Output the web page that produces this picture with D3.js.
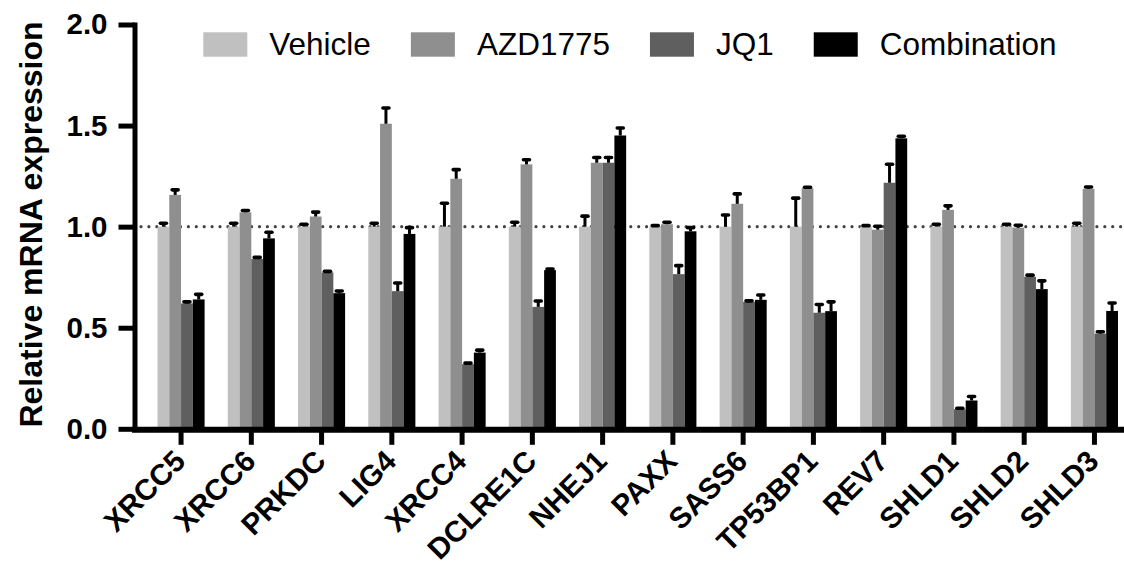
<!DOCTYPE html>
<html>
<head>
<meta charset="utf-8">
<script src="https://cdn.jsdelivr.net/npm/d3@7"></script>
<style>
  html, body { margin: 0; padding: 0; background: #fff; }
  svg { display: block; }
  text { font-family: "Liberation Sans", Arial, Helvetica, sans-serif; }
</style>
</head>
<body>
<svg id="chart" width="1124" height="566"></svg>
<script>
const genes = ["XRCC5","XRCC6","PRKDC","LIG4","XRCC4","DCLRE1C","NHEJ1","PAXX","SASS6","TP53BP1","REV7","SHLD1","SHLD2","SHLD3"];
const seriesNames = ["Vehicle","AZD1775","JQ1","Combination"];
const seriesColors = ["#c0c0c0","#8f8f8f","#5f5f5f","#000000"];
const yTicks = [0, 0.5, 1.0, 1.5, 2.0];

const vehicle     = [1.00, 1.00, 1.00, 1.00, 1.00, 1.00, 1.00, 1.00, 1.00, 1.00, 1.00, 1.00, 1.00, 1.00];
const azd1775     = [1.157, 1.071, 1.05, 1.509, 1.237, 1.308, 1.316, 1.012, 1.113, 1.19, 0.985, 1.083, 0.995, 1.187];
const jq1         = [0.62, 0.84, 0.774, 0.681, 0.32, 0.603, 1.316, 0.765, 0.628, 0.574, 1.217, 0.097, 0.752, 0.471];
const combination = [0.64, 0.942, 0.671, 0.964, 0.377, 0.785, 1.451, 0.977, 0.638, 0.582, 1.437, 0.14, 0.691, 0.583];

const vehicleSem     = [0.017, 0.017, 0.012, 0.017, 0.116, 0.022, 0.052, 0.005, 0.058, 0.141, 0.005, 0.012, 0.012, 0.017];
const azd1775Sem     = [0.025, 0.009, 0.022, 0.078, 0.045, 0.023, 0.026, 0.010, 0.049, 0.005, 0.017, 0.020, 0.012, 0.009];
const jq1Sem         = [0.008, 0.008, 0.005, 0.040, 0.005, 0.029, 0.026, 0.042, 0.005, 0.041, 0.092, 0.005, 0.008, 0.009];
const combinationSem = [0.025, 0.030, 0.011, 0.031, 0.012, 0.005, 0.037, 0.018, 0.024, 0.046, 0.010, 0.020, 0.041, 0.039];

const means = [vehicle, azd1775, jq1, combination];
const sems = [vehicleSem, azd1775Sem, jq1Sem, combinationSem];

const data = genes.map((g, i) => ({
  gene: g,
  values: seriesNames.map((s, k) => ({ series: s, k: k, mean: means[k][i], sem: sems[k][i] }))
}));

const svg = d3.select("#chart");

const x0 = d3.scaleBand().domain(genes).range([134.5, 1141]).paddingInner(0.33).paddingOuter(0.3276);
const x1 = d3.scaleBand().domain(seriesNames).range([0, x0.bandwidth()]).padding(0);
const y = d3.scaleLinear().domain([0, 2]).range([428.8, 24.5]);
const color = d3.scaleOrdinal().domain(seriesNames).range(seriesColors);

// reference dotted line at 1.0
svg.append("line")
  .attr("x1", 141).attr("x2", 1124)
  .attr("y1", y(1)).attr("y2", y(1))
  .attr("stroke", "#444")
  .attr("stroke-width", 3.2)
  .attr("stroke-linecap", "round")
  .attr("stroke-dasharray", "0 7.9");

// bars
const groups = svg.append("g").selectAll("g")
  .data(data).join("g")
  .attr("transform", d => `translate(${x0(d.gene)},0)`);

groups.selectAll("rect")
  .data(d => d.values).join("rect")
  .attr("x", d => x1(d.series))
  .attr("width", x1.bandwidth())
  .attr("y", d => y(d.mean))
  .attr("height", d => y(0) - y(d.mean))
  .attr("fill", d => color(d.series));

// error bars (upper only)
const eb = groups.selectAll("g.err")
  .data(d => d.values).join("g").attr("class", "err");
eb.append("line")
  .attr("x1", d => x1(d.series) + x1.bandwidth() / 2)
  .attr("x2", d => x1(d.series) + x1.bandwidth() / 2)
  .attr("y1", d => y(d.mean))
  .attr("y2", d => y(d.mean + d.sem))
  .attr("stroke", "#000").attr("stroke-width", 3);
eb.append("line")
  .attr("x1", d => x1(d.series) + x1.bandwidth() / 2 - 3)
  .attr("x2", d => x1(d.series) + x1.bandwidth() / 2 + 3)
  .attr("y1", d => y(d.mean + d.sem))
  .attr("y2", d => y(d.mean + d.sem))
  .attr("stroke", "#000").attr("stroke-width", 3.6).attr("stroke-linecap", "round");

// y axis
const yAxis = svg.append("g")
  .attr("transform", "translate(134.5,0)")
  .call(d3.axisLeft(y).tickValues(yTicks).tickFormat(d3.format(".1f")).tickSize(16).tickSizeOuter(0).tickPadding(11));
yAxis.select(".domain").attr("stroke", "#000").attr("stroke-width", 5).attr("stroke-linecap", "square");
yAxis.selectAll(".tick line").attr("stroke", "#000").attr("stroke-width", 5);
yAxis.selectAll(".tick text")
  .attr("font-size", "29.5px").attr("font-weight", "bold").attr("fill", "#000")
  .attr("font-family", "'Liberation Sans', Arial, Helvetica, sans-serif");

// x axis
const xAxis = svg.append("g")
  .attr("transform", `translate(0,${y(0) + 1})`)
  .call(d3.axisBottom(x0).tickSize(15).tickSizeOuter(0).tickPadding(0));
xAxis.select(".domain").attr("stroke", "#000").attr("stroke-width", 6)
  .attr("d", `M132,0H1141`);
xAxis.selectAll(".tick line").attr("stroke", "#000").attr("stroke-width", 5);
xAxis.selectAll(".tick text")
  .attr("font-size", "29.5px").attr("font-weight", "bold").attr("fill", "#000")
  .attr("font-family", "'Liberation Sans', Arial, Helvetica, sans-serif")
  .attr("text-anchor", "end")
  .attr("dy", 0)
  .attr("y", 0)
  .attr("transform", "translate(6,33) rotate(-45)");

// y label
svg.append("text")
  .attr("transform", "translate(41.5,224.5) rotate(-90)")
  .attr("text-anchor", "middle")
  .attr("font-size", "32px").attr("font-weight", "bold").attr("fill", "#000")
  .text("Relative mRNA expression");

// legend
const legend = svg.append("g");
let lx = 203.3;
seriesNames.forEach((s, k) => {
  legend.append("rect")
    .attr("x", lx).attr("y", 32.3).attr("width", 44).attr("height", 24.4)
    .attr("fill", color(s));
  const t = legend.append("text")
    .attr("x", lx + 66).attr("y", 55)
    .attr("font-size", "31.5px").attr("fill", "#000")
    .text(s);
  lx = lx + 66 + t.node().getComputedTextLength() + 40;
});
</script>
</body>
</html>
